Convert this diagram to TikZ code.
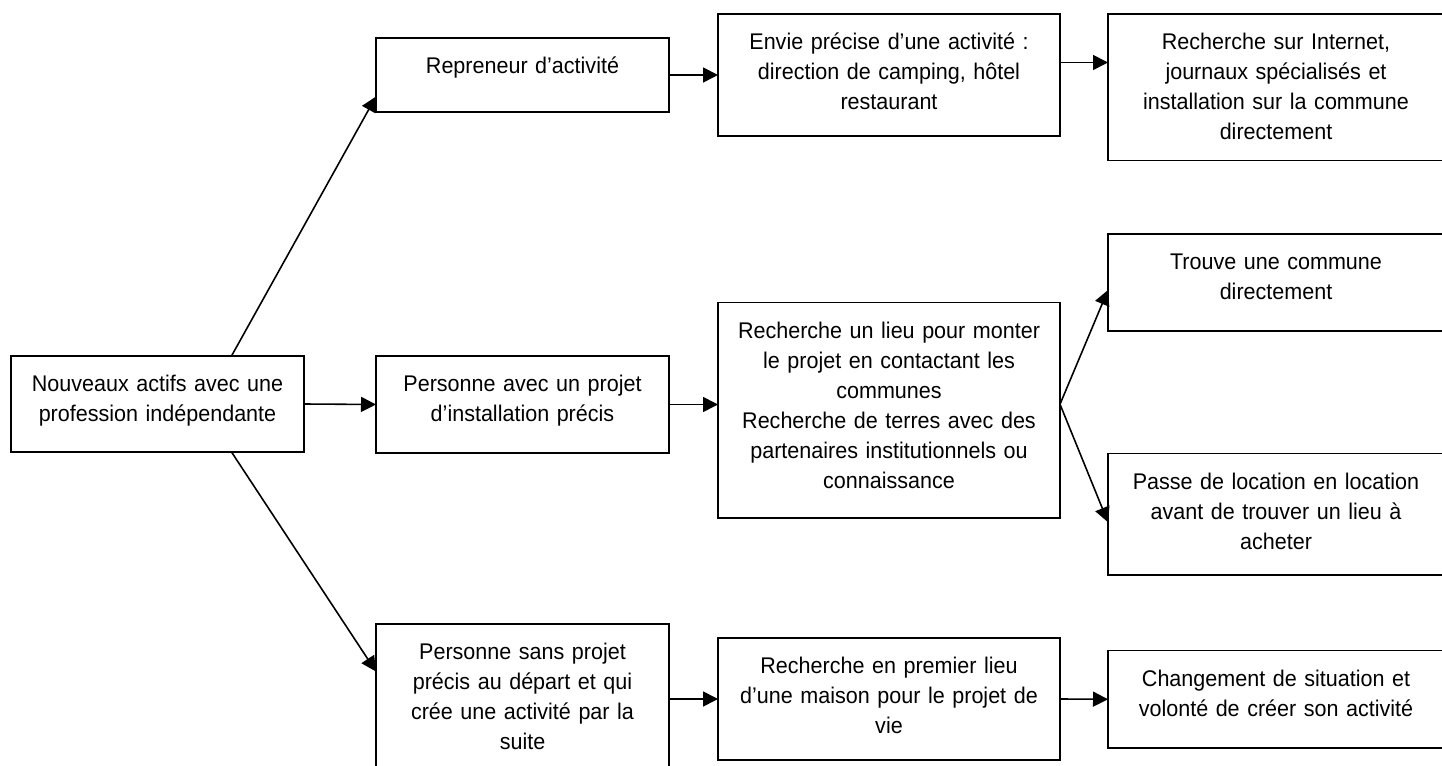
\documentclass[tikz,border=0pt]{standalone}
\usepackage{fontspec}
\setmainfont[FakeStretch=0.95]{Liberation Sans}
\usetikzlibrary{arrows.meta}

\begin{document}
\begin{tikzpicture}[
      box/.style={rectangle, draw, line width=1.1pt, anchor=north west, align=center, outer sep=0pt,
        inner xsep=0.1cm, inner ysep=0.1cm, text height=0.62cm,
        font=\fontsize{12.9}{17.07}\selectfont},
      narrowbox/.style={box, text width=5.66cm},
      midbox/.style={box, text width=6.64cm},
      widebox/.style={box, text width=6.52cm},
      arr/.style={-{Triangle[length=0.3cm, width=0.3cm]}, line width=0.9pt}]

      \clip (0,0) rectangle (28.84,15.3);

      \node[narrowbox, text depth=1.10cm] (actifs) at (0.22,8.18) {Nouveaux actifs avec une\\ profession indépendante};

      \node[narrowbox, text depth=0.66cm] (repreneur) at (7.52,14.54) {Repreneur d’activité};
      \node[narrowbox, text depth=1.12cm] (projet) at (7.52,8.18) {Personne avec un projet\\ d’installation précis};
      \node[narrowbox, text depth=2.50cm] (sansprojet) at (7.52,2.82) {Personne sans projet\\ précis au départ et qui\\ crée une activité par la\\ suite};

      \node[midbox, text depth=1.62cm] (envie) at (14.36,15.02) {Envie précise d’une activité :\\ direction de camping, hôtel\\ restaurant};
      \node[midbox, text depth=3.49cm] (lieu) at (14.36,9.25) {Recherche un lieu pour monter\\ le projet en contactant les\\ communes\\ Recherche de terres avec des\\ partenaires institutionnels ou\\ connaissance};
      \node[midbox, text depth=1.62cm] (maison) at (14.36,2.54) {Recherche en premier lieu\\ d’une maison pour le projet de\\ vie};

      \node[widebox, text depth=2.11cm] (internet) at (22.16,15.02) {Recherche sur Internet,\\ journaux spécialisés et\\ installation sur la commune\\ directement};
      \node[widebox, text depth=1.12cm] (trouve) at (22.16,10.62) {Trouve une commune\\ directement};
      \node[widebox, text depth=1.61cm] (location) at (22.16,6.23) {Passe de location en location\\ avant de trouver un lieu à\\ acheter};
      \node[widebox, text depth=1.13cm] (changement) at (22.16,2.29) {Changement de situation et\\ volonté de créer son activité};

      % Arrows
      \coordinate (envieout) at ([yshift=0.25cm]envie.east);
      \coordinate (fork) at ([yshift=0.12cm]lieu.east);

      \draw[arr] ([xshift=1.48cm]actifs.north) -- ([yshift=-0.43cm]repreneur.west);
      \draw[arr] (actifs.east) -- (projet.west);
      \draw[arr] ([xshift=1.48cm]actifs.south) -- ([yshift=-0.95cm]sansprojet.north west);

      \draw[arr] (repreneur.east) -- (envie.west);
      \draw[arr] (projet.east) -- (projet.east -| lieu.west);
      \draw[arr] (sansprojet.east |- maison.west) -- (maison.west);

      \draw[arr] (envieout) -- (envieout -| internet.west);
      \draw[arr] (fork) -- ([yshift=-0.15cm]trouve.west);
      \draw[arr] (fork) -- ([yshift=-0.16cm]location.west);
      \draw[arr] (maison.east) -- (changement.west);
    \end{tikzpicture}
\end{document}
